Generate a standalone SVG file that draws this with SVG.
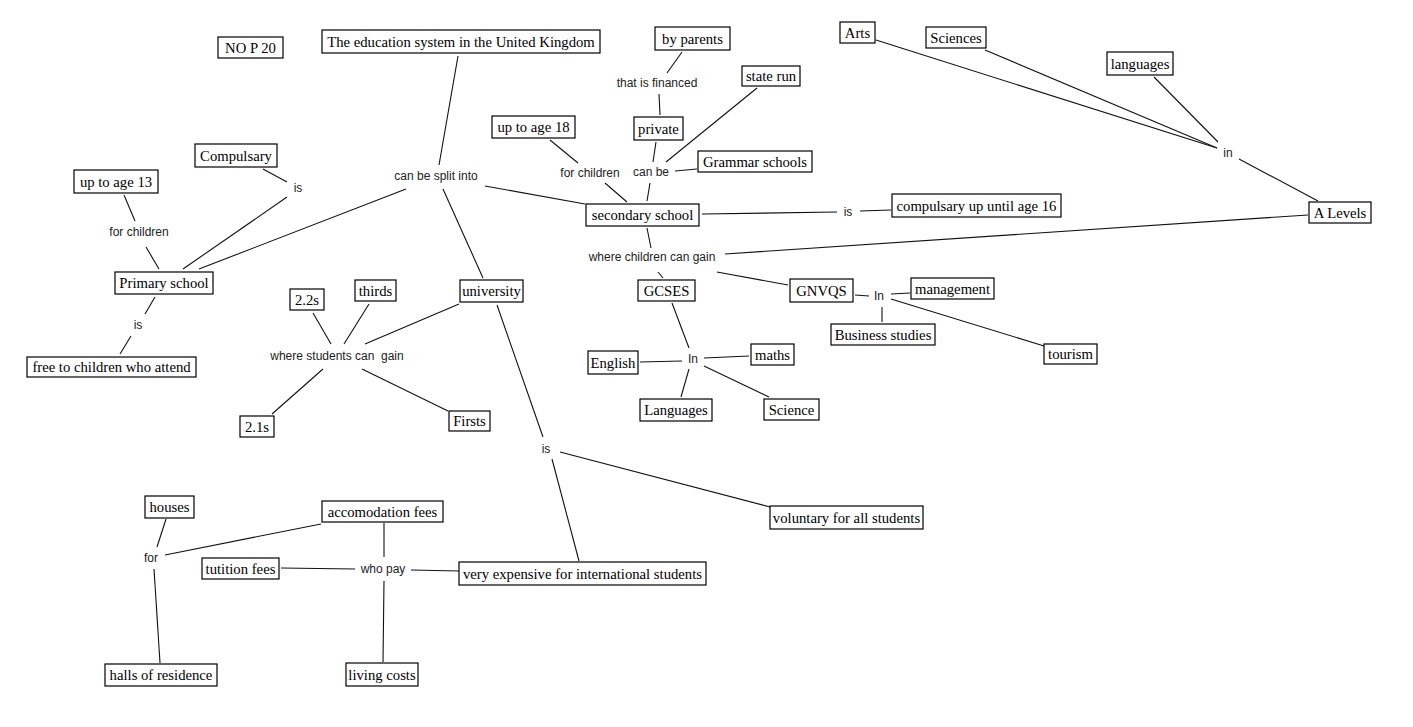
<svg xmlns="http://www.w3.org/2000/svg" width="1413" height="727" viewBox="0 0 1413 727">
<style>
.b rect{fill:#fff;stroke:#000;stroke-width:1.2}
.b text{font-family:"Liberation Serif","Times New Roman",serif;font-size:14.7px;fill:#000;text-anchor:middle}
.l text{font-family:"Liberation Sans",Arial,sans-serif;font-size:12px;fill:#222;text-anchor:middle;white-space:pre}
#connectors line{stroke:#111;stroke-width:1.1}
</style>
<rect width="1413" height="727" fill="#fff"/>
<g id="connectors">
<line x1="458" y1="56" x2="439" y2="165"/>
<line x1="406" y1="189" x2="199" y2="269"/>
<line x1="443" y1="189" x2="483" y2="278"/>
<line x1="263" y1="169" x2="287" y2="182"/>
<line x1="287" y1="197" x2="183" y2="269"/>
<line x1="124" y1="195" x2="135" y2="221"/>
<line x1="146" y1="247" x2="159" y2="269"/>
<line x1="155" y1="297" x2="145" y2="314"/>
<line x1="131" y1="336" x2="120" y2="354"/>
<line x1="313" y1="313" x2="331" y2="344"/>
<line x1="369" y1="304" x2="344" y2="344"/>
<line x1="459" y1="304" x2="365" y2="344"/>
<line x1="323" y1="369" x2="272" y2="414"/>
<line x1="362" y1="369" x2="448" y2="411"/>
<line x1="682" y1="52" x2="667" y2="73"/>
<line x1="659" y1="94" x2="660" y2="115"/>
<line x1="656" y1="142" x2="653" y2="162"/>
<line x1="757" y1="88" x2="666" y2="162"/>
<line x1="675" y1="171" x2="697" y2="169"/>
<line x1="650" y1="183" x2="647" y2="201"/>
<line x1="550" y1="140" x2="578" y2="163"/>
<line x1="605" y1="183" x2="627" y2="202"/>
<line x1="485" y1="186" x2="585" y2="204"/>
<line x1="702" y1="214" x2="837" y2="212"/>
<line x1="860" y1="211" x2="891" y2="210"/>
<line x1="876" y1="40" x2="1217" y2="148"/>
<line x1="985" y1="50" x2="1217" y2="148"/>
<line x1="1154" y1="77" x2="1218" y2="142"/>
<line x1="1239" y1="159" x2="1318" y2="201"/>
<line x1="725" y1="254" x2="1308" y2="215"/>
<line x1="647" y1="228" x2="651" y2="248"/>
<line x1="658" y1="272" x2="663" y2="278"/>
<line x1="717" y1="272" x2="788" y2="285"/>
<line x1="672" y1="303" x2="689" y2="348"/>
<line x1="682" y1="361" x2="640" y2="362"/>
<line x1="704" y1="358" x2="749" y2="356"/>
<line x1="689" y1="369" x2="681" y2="397"/>
<line x1="704" y1="366" x2="769" y2="397"/>
<line x1="855" y1="295" x2="869" y2="296"/>
<line x1="891" y1="294" x2="910" y2="293"/>
<line x1="882" y1="307" x2="882" y2="322"/>
<line x1="891" y1="299" x2="1044" y2="346"/>
<line x1="497" y1="305" x2="543" y2="437"/>
<line x1="560" y1="452" x2="770" y2="507"/>
<line x1="552" y1="459" x2="579" y2="561"/>
<line x1="166" y1="519" x2="157" y2="547"/>
<line x1="165" y1="555" x2="321" y2="524"/>
<line x1="154" y1="569" x2="160" y2="663"/>
<line x1="384" y1="523" x2="384" y2="557"/>
<line x1="281" y1="568" x2="355" y2="569"/>
<line x1="411" y1="570" x2="459" y2="571"/>
<line x1="384" y1="581" x2="383" y2="662"/>
</g>
<g class="b">
<g id="nop"><rect x="218" y="37" width="65" height="21"/><text x="250.5" y="52.5">NO P 20</text></g>
<g id="edu"><rect x="322" y="30" width="278" height="23"/><text x="461" y="46.5">The education system in the United Kingdom</text></g>
<g id="compulsary"><rect x="195" y="144" width="82" height="23"/><text x="236" y="160.5">Compulsary</text></g>
<g id="age13"><rect x="74" y="170" width="84" height="23"/><text x="116" y="186.5">up to age 13</text></g>
<g id="primary"><rect x="115" y="272" width="98" height="22"/><text x="164" y="288">Primary school</text></g>
<g id="free"><rect x="27" y="357" width="169" height="20"/><text x="111.5" y="372">free to children who attend</text></g>
<g id="s22"><rect x="290" y="289" width="34" height="21"/><text x="307" y="304.5">2.2s</text></g>
<g id="thirds"><rect x="355" y="280" width="41" height="21"/><text x="375.5" y="295.5">thirds</text></g>
<g id="university"><rect x="460" y="280" width="63" height="22"/><text x="491.5" y="296">university</text></g>
<g id="s21"><rect x="240" y="416" width="34" height="21"/><text x="257" y="431.5">2.1s</text></g>
<g id="firsts"><rect x="449" y="411" width="41" height="20"/><text x="469.5" y="426">Firsts</text></g>
<g id="parents"><rect x="655" y="27" width="75" height="23"/><text x="692.5" y="43.5">by parents</text></g>
<g id="staterun"><rect x="742" y="66" width="58" height="20"/><text x="771" y="81">state run</text></g>
<g id="age18"><rect x="492" y="116" width="83" height="22"/><text x="533.5" y="132">up to age 18</text></g>
<g id="private"><rect x="634" y="117" width="49" height="23"/><text x="658.5" y="133.5">private</text></g>
<g id="grammar"><rect x="698" y="151" width="114" height="21"/><text x="755" y="166.5">Grammar schools</text></g>
<g id="secondary"><rect x="586" y="204" width="113" height="22"/><text x="642.5" y="220">secondary school</text></g>
<g id="comp16"><rect x="892" y="194" width="169" height="23"/><text x="976.5" y="210.5">compulsary up until age 16</text></g>
<g id="arts"><rect x="840" y="22" width="35" height="21"/><text x="857.5" y="37.5">Arts</text></g>
<g id="sciences"><rect x="926" y="27" width="60" height="21"/><text x="956" y="42.5">Sciences</text></g>
<g id="languages"><rect x="1107" y="52" width="66" height="23"/><text x="1140" y="68.5">languages</text></g>
<g id="alevels"><rect x="1309" y="202" width="62" height="21"/><text x="1340" y="217.5">A Levels</text></g>
<g id="gcses"><rect x="638" y="280" width="57" height="21"/><text x="666.5" y="295.5">GCSES</text></g>
<g id="gnvqs"><rect x="790" y="279" width="63" height="23"/><text x="821.5" y="295.5">GNVQS</text></g>
<g id="management"><rect x="911" y="278" width="83" height="21"/><text x="952.5" y="293.5">management</text></g>
<g id="business"><rect x="831" y="324" width="104" height="21"/><text x="883" y="339.5">Business studies</text></g>
<g id="tourism"><rect x="1044" y="344" width="53" height="20"/><text x="1070.5" y="359">tourism</text></g>
<g id="english"><rect x="588" y="351" width="50" height="23"/><text x="613" y="367.5">English</text></g>
<g id="maths"><rect x="751" y="344" width="43" height="21"/><text x="772.5" y="359.5">maths</text></g>
<g id="languages2"><rect x="640" y="399" width="72" height="22"/><text x="676" y="415">Languages</text></g>
<g id="science"><rect x="764" y="399" width="55" height="21"/><text x="791.5" y="414.5">Science</text></g>
<g id="voluntary"><rect x="770" y="506" width="153" height="23"/><text x="846.5" y="522.5">voluntary for all students</text></g>
<g id="houses"><rect x="145" y="496" width="49" height="22"/><text x="169.5" y="512">houses</text></g>
<g id="accomodation"><rect x="322" y="501" width="121" height="21"/><text x="382.5" y="516.5">accomodation fees</text></g>
<g id="tuition"><rect x="202" y="558" width="77" height="21"/><text x="240.5" y="573.5">tutition fees</text></g>
<g id="expensive"><rect x="459" y="562" width="247" height="23"/><text x="582.5" y="578.5">very expensive for international students</text></g>
<g id="halls"><rect x="105" y="664" width="112" height="22"/><text x="161" y="680">halls of residence</text></g>
<g id="living"><rect x="346" y="663" width="72" height="23"/><text x="382" y="679.5">living costs</text></g>
</g>
<g class="l">
<g id="lbl-split"><text x="436" y="180">can be split into</text></g>
<g id="lbl-is1"><text x="298" y="192">is</text></g>
<g id="lbl-forchildren1"><text x="139" y="236">for children</text></g>
<g id="lbl-is2"><text x="138" y="329">is</text></g>
<g id="lbl-students"><text x="337" y="360" xml:space="preserve">where students can  gain</text></g>
<g id="lbl-financed"><text x="657" y="87">that is financed</text></g>
<g id="lbl-forchildren2"><text x="590" y="177">for children</text></g>
<g id="lbl-canbe"><text x="651" y="176">can be</text></g>
<g id="lbl-is3"><text x="848" y="216">is</text></g>
<g id="lbl-in1"><text x="1228" y="157">in</text></g>
<g id="lbl-children"><text x="652" y="261">where children can gain</text></g>
<g id="lbl-in2"><text x="879" y="300">In</text></g>
<g id="lbl-in3"><text x="693" y="363">In</text></g>
<g id="lbl-is4"><text x="546" y="453">is</text></g>
<g id="lbl-for"><text x="151" y="562">for</text></g>
<g id="lbl-whopay"><text x="383" y="573">who pay</text></g>
</g>
</svg>
